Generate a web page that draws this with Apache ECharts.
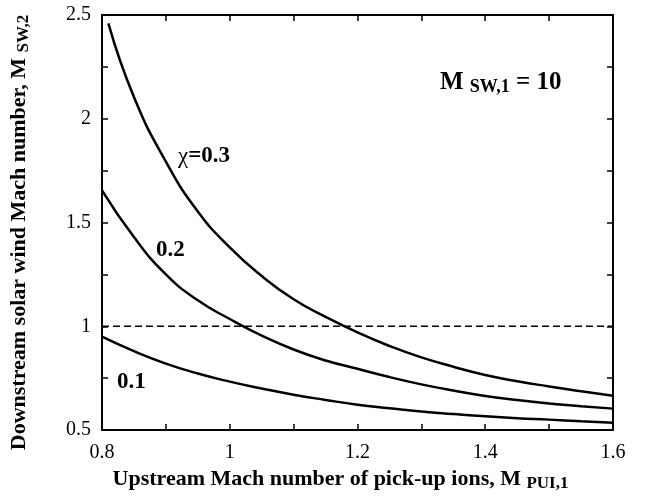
<!DOCTYPE html>
<html>
<head>
<meta charset="utf-8">
<script src="https://cdn.jsdelivr.net/npm/echarts@6/dist/echarts.min.js"></script>
<style>
  html, body { margin: 0; padding: 0; background: #fff; }
  #chart { width: 649px; height: 497px; }
</style>
</head>
<body>
<div id="chart"></div>
<script>
// upstream Mach number of pick-up ions (x)
var xChi01 = [0.8, 0.85, 0.9, 0.95, 1.0, 1.05, 1.1, 1.15, 1.2, 1.25, 1.3, 1.35, 1.4, 1.45, 1.5, 1.55, 1.6]
var xChi02 = [0.8, 0.85, 0.9, 0.95, 1.0, 1.05, 1.1, 1.15, 1.2, 1.25, 1.3, 1.35, 1.4, 1.45, 1.5, 1.55, 1.6]
var xChi03 = [0.81, 0.85, 0.9, 0.95, 1.0, 1.05, 1.1, 1.15, 1.2, 1.25, 1.3, 1.35, 1.4, 1.45, 1.5, 1.55, 1.6]
// downstream solar wind Mach number (y)
var yChi01 = [0.95, 0.88, 0.82, 0.772, 0.733, 0.70, 0.67, 0.645, 0.622, 0.605, 0.589, 0.577, 0.566, 0.557, 0.55, 0.542, 0.535]
var yChi02 = [1.655, 1.43, 1.25, 1.125, 1.035, 0.955, 0.888, 0.835, 0.795, 0.755, 0.72, 0.69, 0.664, 0.645, 0.628, 0.615, 0.603]
var yChi03 = [2.46, 2.105, 1.793, 1.553, 1.38, 1.242, 1.13, 1.045, 0.97, 0.905, 0.85, 0.805, 0.765, 0.735, 0.71, 0.687, 0.665]
var sonicLevel = 1
var xRange = [0.8, 1.6]
var yRange = [0.5, 2.5]

function pairs (xs, ys) {
  return xs.map(function (x, i) { return [x, ys[i]] })
}

var font = 'Liberation Serif'
var tickStyle = { show: true, inside: true, length: 6, lineStyle: { color: '#000', width: 1.5 } }
var minorStyle = { show: true, splitNumber: 2, length: 6, lineStyle: { color: '#000', width: 1.5 } }
var lineAxis = { show: true, onZero: false, lineStyle: { color: '#000', width: 2 } }
var titleRich = {
  b: { fontFamily: font, fontWeight: 'bold', fontSize: 22, color: '#000' },
  s: { fontFamily: font, fontWeight: 'bold', fontSize: 17, color: '#000', padding: [9, 0, 0, 0] }
}

function curve (data) {
  return {
    type: 'line',
    data: data,
    smooth: 0.5,
    symbol: 'none',
    lineStyle: { color: '#000', width: 2.5 },
    z: 3
  }
}

var option = {
  animation: false,
  backgroundColor: '#fff',
  grid: { left: 94, top: 15, right: 36, bottom: 67 },
  xAxis: [
    {
      type: 'value', min: xRange[0], max: xRange[1], interval: 0.2,
      axisLine: lineAxis, axisTick: tickStyle, minorTick: minorStyle,
      splitLine: { show: false },
      axisLabel: { fontFamily: font, fontSize: 20, color: '#000', margin: 13 },
      name: '{b|Upstream Mach number of pick-up ions, M }{s|PUI,1}',
      nameLocation: 'middle',
      nameGap: 36,
      nameTextStyle: { padding: [0, 34, 0, 0], rich: titleRich }
    },
    {
      type: 'value', position: 'top', min: xRange[0], max: xRange[1], interval: 0.2,
      axisLine: lineAxis, axisTick: tickStyle, minorTick: minorStyle,
      splitLine: { show: false }, axisLabel: { show: false }
    }
  ],
  yAxis: [
    {
      type: 'value', min: yRange[0], max: yRange[1], interval: 0.5,
      axisLine: lineAxis, axisTick: tickStyle, minorTick: minorStyle,
      splitLine: { show: false },
      axisLabel: { fontFamily: font, fontSize: 20, color: '#000', margin: 11 },
      name: '{b|Downstream solar wind Mach number, M }{s|SW,2}',
      nameLocation: 'middle',
      nameGap: 70,
      nameTextStyle: { padding: [0, 20, 0, 0], rich: titleRich }
    },
    {
      type: 'value', position: 'right', min: yRange[0], max: yRange[1], interval: 0.5,
      axisLine: lineAxis, axisTick: tickStyle, minorTick: minorStyle,
      splitLine: { show: false }, axisLabel: { show: false }
    }
  ],
  series: [
    curve(pairs(xChi01, yChi01)),
    curve(pairs(xChi02, yChi02)),
    curve(pairs(xChi03, yChi03)),
    {
      type: 'line',
      data: [[xRange[0], sonicLevel], [xRange[1], sonicLevel]],
      symbol: 'none',
      lineStyle: { color: '#000', width: 1.5, type: [7, 4] },
      z: 2
    }
  ],
  graphic: [
    {
      type: 'text', left: 178, top: 145,
      style: {
        text: '{r|\u03c7}{b|=0.3}',
        rich: {
          r: { fontFamily: font, fontSize: 23, fill: '#000' },
          b: { fontFamily: font, fontWeight: 'bold', fontSize: 23, fill: '#000' }
        }
      }
    },
    {
      type: 'text', left: 156, top: 239,
      style: { text: '0.2', font: 'bold 23px "Liberation Serif"', fill: '#000' }
    },
    {
      type: 'text', left: 117, top: 371,
      style: { text: '0.1', font: 'bold 23px "Liberation Serif"', fill: '#000' }
    },
    {
      type: 'text', left: 440, top: 70,
      style: {
        text: '{b|M }{s|SW,1}{b| = 10}',
        rich: {
          b: { fontFamily: font, fontWeight: 'bold', fontSize: 25, fill: '#000' },
          s: { fontFamily: font, fontWeight: 'bold', fontSize: 18, fill: '#000', padding: [10, 0, 0, 0] }
        }
      }
    }
  ]
}

var myChart = echarts.init(document.getElementById('chart'))
myChart.setOption(option)
window.addEventListener('resize', function () {
  myChart.resize()
})
</script>
</body>
</html>
